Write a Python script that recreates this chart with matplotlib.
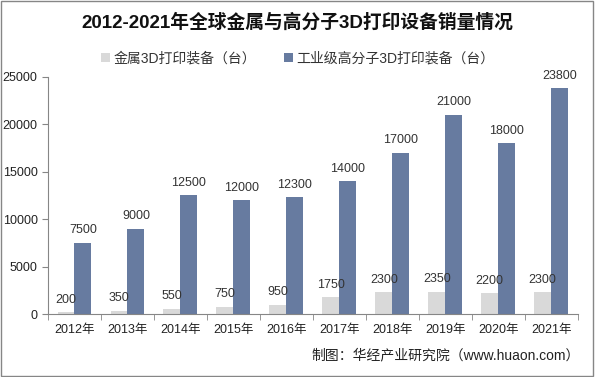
import matplotlib.pyplot as plt
import numpy as np

plt.rcParams["font.family"] = ["Liberation Sans", "Noto Sans CJK SC"]

years = ["2012年", "2013年", "2014年", "2015年", "2016年",
         "2017年", "2018年", "2019年", "2020年", "2021年"]
metal = [200, 350, 550, 750, 950, 1750, 2300, 2350, 2200, 2300]
polymer = [7500, 9000, 12500, 12000, 12300, 14000, 17000, 21000, 18000, 23800]


def main() -> None:
    fig = plt.figure(figsize=(5.95, 3.77), dpi=100)
    ax = fig.add_axes([0.0807, 0.167, 0.890, 0.629])

    x = np.arange(len(years))
    w = 0.32
    ax.bar(x - w / 2, metal, w, color="#D9D9D9", label="金属3D打印装备（台）")
    ax.bar(x + w / 2, polymer, w, color="#677BA0", label="工业级高分子3D打印装备（台）")

    for i in range(len(years)):
        ax.text(x[i] - w / 2, metal[i] + 700, str(metal[i]), ha="center",
                va="bottom", fontsize=9, color="#333333")
        ax.text(x[i] + w / 2, polymer[i] + 700, str(polymer[i]), ha="center",
                va="bottom", fontsize=9, color="#333333")

    ax.set_xlim(-0.5, len(years) - 0.5)
    ax.set_ylim(0, 25000)
    ax.set_yticks(range(0, 25001, 5000))
    ax.set_xticks(x)
    ax.set_xticklabels(years, fontsize=9, color="#222222")
    ax.set_xticks(np.arange(-0.5, len(years)), minor=True)
    ax.tick_params(axis="x", which="major", length=0, pad=7)
    ax.tick_params(axis="x", which="minor", length=4, color="#868686", direction="out")
    ax.tick_params(axis="y", length=4, color="#868686", labelsize=9,
                   labelcolor="#222222", direction="out")

    for s in ["top", "right"]:
        ax.spines[s].set_visible(False)
    for s in ["left", "bottom"]:
        ax.spines[s].set_color("#868686")
        ax.spines[s].set_linewidth(0.8)

    fig.text(0.5, 0.94, "2012-2021年全球金属与高分子3D打印设备销量情况",
             ha="center", va="center", fontsize=13.5, fontweight="bold",
             color="#111111")
    fig.legend(loc="center", bbox_to_anchor=(0.5, 0.845), ncol=2, frameon=False,
               fontsize=10, handlelength=0.7, handleheight=0.7,
               handletextpad=0.2, columnspacing=2.0, labelcolor="#333333")

    fig.text(0.975, 0.057, "制图：华经产业研究院（www.huaon.com）", ha="right",
             va="center", fontsize=10, color="#222222")

    # outer border
    fig.patches.append(plt.Rectangle((0.002, 0.003), 0.995, 0.994,
                                     transform=fig.transFigure, fill=False,
                                     edgecolor="#868686", linewidth=1))

    fig.savefig("out.png", dpi=100)
    plt.close(fig)


if __name__ == "__main__":
    main()
